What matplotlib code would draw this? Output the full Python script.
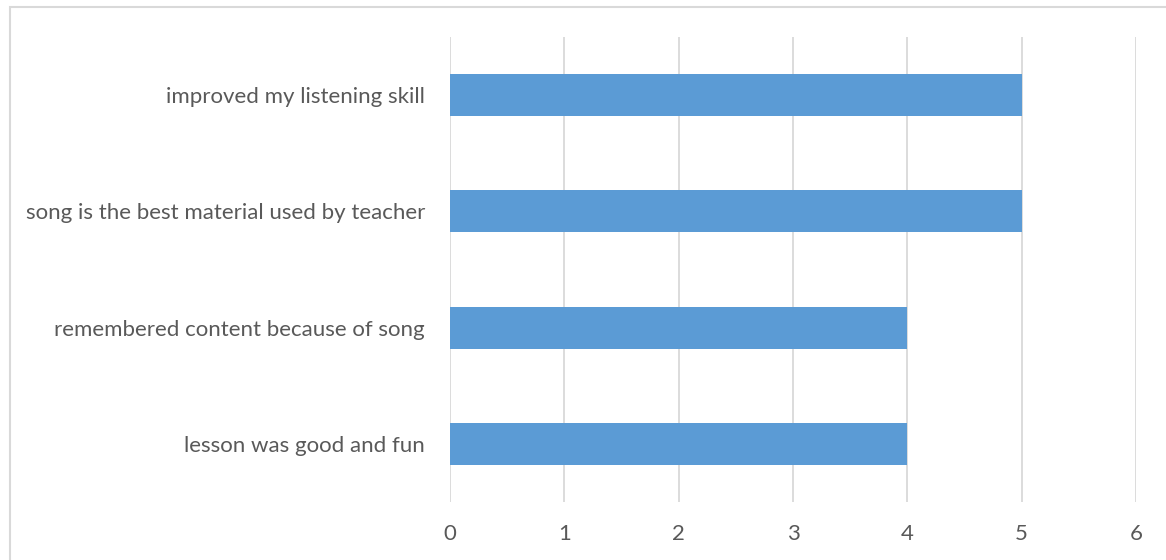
import matplotlib.pyplot as plt
from matplotlib.patches import Rectangle

categories = ["lesson was good and fun",
              "remembered content because of song",
              "song is the best material used by teacher",
              "improved my listening skill"]
values = [4, 4, 5, 5]
xticks = [0, 1, 2, 3, 4, 5, 6]

plt.rcParams['font.family'] = ['Lato', 'DejaVu Sans']

fig = plt.figure(figsize=(11.66, 5.6), dpi=100)
ax = fig.add_axes([450/1166, 1 - 502/560, 686/1166, 465/560])

ax.barh(range(len(categories)), values, height=0.36, color='#5B9BD5', zorder=3)
ax.set_xlim(0, 6)
ax.set_ylim(-0.5, len(categories) - 0.5)
ax.set_xticks(xticks)
ax.set_yticks(range(len(categories)))
ax.set_yticklabels(categories)
ax.grid(axis='x', color='#D9D9D9', linewidth=1.3, zorder=0)
ax.tick_params(axis='both', length=0, labelsize=16, colors='#595959')
ax.tick_params(axis='x', pad=16)
ax.tick_params(axis='y', pad=18)
for s in ax.spines.values():
    s.set_visible(False)

# outer chart border (cropped at right and bottom)
fig.patches.append(Rectangle((10/1166, -0.05), 1.2, 1 - 7/560 + 0.05,
                             transform=fig.transFigure, fill=False,
                             edgecolor='#D9D9D9', linewidth=1.5))

fig.savefig("out.png", dpi=100)
